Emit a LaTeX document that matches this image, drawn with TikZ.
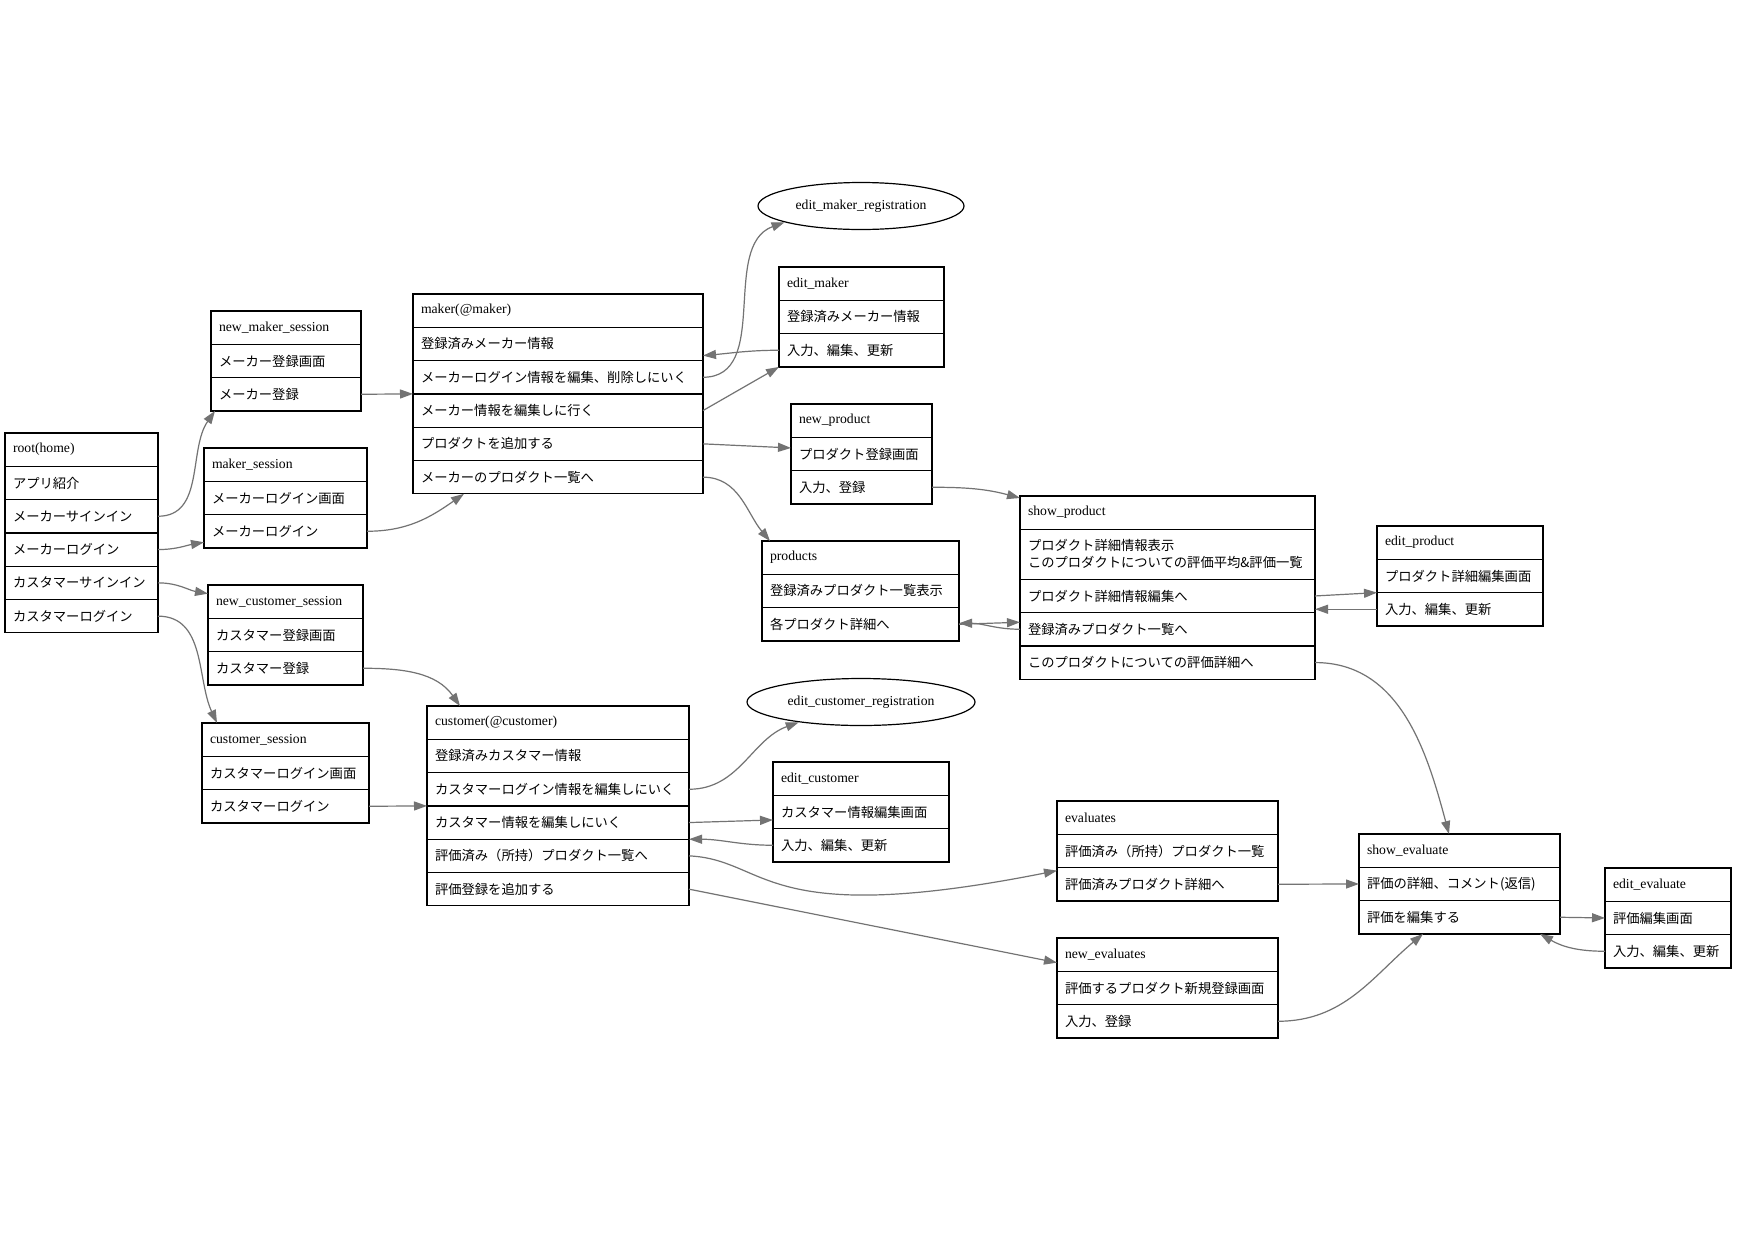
\documentclass[tikz,border=0pt]{standalone}
\usepackage{fontspec}
\setmainfont{Liberation Serif}
\newfontfamily\jpfont{Noto Sans CJK JP}
\usetikzlibrary{shapes,arrows.meta,positioning}

\begin{document}
\begin{tikzpicture}[x=1pt, y=1pt]
    \tikzset{
        head/.style = {rectangle, draw=black, line width=1.2pt, outer sep=0pt, inner xsep=8pt, inner ysep=2pt, minimum height=33.3pt, text width=#1, align=left, font=\fontsize{13.7}{16}\selectfont},
        field/.style = {head=#1, font=\fontsize{13.3}{17}\selectfont\jpfont},
        oval/.style = {ellipse, draw=black, line width=1.2pt, inner sep=0pt, font=\fontsize{13.7}{16}\selectfont},
        line/.style = {draw=black!55, line width=1.2pt, -{Triangle[length=13pt, width=9pt]}}
    }

    \path[fill=white, use as bounding box] (0,0) rectangle (1753,-1240);

    \node[head=137pt, anchor=north west](root) at (5,-433){root(home)};
    \node[field=137pt](root1)[below=0pt of root]{アプリ紹介};
    \node[field=137pt](root2)[below=0pt of root1]{メーカーサインイン};
    \node[field=137pt](root3)[below=0pt of root2]{メーカーログイン};
    \node[field=137pt](root4)[below=0pt of root3]{カスタマーサインイン};
    \node[field=137pt](root5)[below=0pt of root4]{カスタマーログイン};

    \node[head=134pt, anchor=north west](nms) at (211,-311){new\_maker\_session};
    \node[field=134pt](nms1)[below=0pt of nms]{メーカー登録画面};
    \node[field=134pt](nms2)[below=0pt of nms1]{メーカー登録};

    \node[head=147pt, anchor=north west](ms) at (204,-448){maker\_session};
    \node[field=147pt](ms1)[below=0pt of ms]{メーカーログイン画面};
    \node[field=147pt](ms2)[below=0pt of ms1]{メーカーログイン};

    \node[head=139pt, anchor=north west](ncs) at (208,-585){new\_customer\_session};
    \node[field=139pt](ncs1)[below=0pt of ncs]{カスタマー登録画面};
    \node[field=139pt](ncs2)[below=0pt of ncs1]{カスタマー登録};

    \node[head=151pt, anchor=north west](cs) at (202,-723){customer\_session};
    \node[field=151pt](cs1)[below=0pt of cs]{カスタマーログイン画面};
    \node[field=151pt](cs2)[below=0pt of cs1]{カスタマーログイン};

    \node[head=274pt, anchor=north west](maker) at (413,-294){maker(@maker)};
    \node[field=274pt](maker1)[below=0pt of maker]{登録済みメーカー情報};
    \node[field=274pt](maker2)[below=0pt of maker1]{メーカーログイン情報を編集、削除しにいく};
    \node[field=274pt](maker3)[below=0pt of maker2]{メーカー情報を編集しに行く};
    \node[field=274pt](maker4)[below=0pt of maker3]{プロダクトを追加する};
    \node[field=274pt](maker5)[below=0pt of maker4]{メーカーのプロダクト一覧へ};

    \node[head=246pt, anchor=north west](customer) at (427,-706){customer(@customer)};
    \node[field=246pt](customer1)[below=0pt of customer]{登録済みカスタマー情報};
    \node[field=246pt](customer2)[below=0pt of customer1]{カスタマーログイン情報を編集しにいく};
    \node[field=246pt](customer3)[below=0pt of customer2]{カスタマー情報を編集しにいく};
    \node[field=246pt](customer4)[below=0pt of customer3]{評価済み（所持）プロダクト一覧へ};
    \node[field=246pt](customer5)[below=0pt of customer4]{評価登録を追加する};

    \node[oval, minimum width=206pt, minimum height=47pt](emr) at (861,-206){edit\_maker\_registration};
    \node[oval, minimum width=228pt, minimum height=47pt](ecr) at (861,-702){edit\_customer\_registration};

    \node[head=149pt, anchor=north west](em) at (779,-267){edit\_maker};
    \node[field=149pt](em1)[below=0pt of em]{登録済みメーカー情報};
    \node[field=149pt](em2)[below=0pt of em1]{入力、編集、更新};

    \node[head=125pt, anchor=north west](np) at (791,-404){new\_product};
    \node[field=125pt](np1)[below=0pt of np]{プロダクト登録画面};
    \node[field=125pt](np2)[below=0pt of np1]{入力、登録};

    \node[head=181pt, anchor=north west](products) at (762,-541){products};
    \node[field=181pt](products1)[below=0pt of products]{登録済みプロダクト一覧表示};
    \node[field=181pt](products2)[below=0pt of products1]{各プロダクト詳細へ};

    \node[head=279pt, anchor=north west](sp) at (1020,-496){show\_product};
    \node[field=279pt, minimum height=50pt](sp1)[below=0pt of sp]{プロダクト詳細情報表示\\このプロダクトについての評価平均\&評価一覧};
    \node[field=279pt](sp2)[below=0pt of sp1]{プロダクト詳細情報編集へ};
    \node[field=279pt](sp3)[below=0pt of sp2]{登録済みプロダクト一覧へ};
    \node[field=279pt](sp4)[below=0pt of sp3]{このプロダクトについての評価詳細へ};

    \node[head=150pt, anchor=north west](ep) at (1377,-526){edit\_product};
    \node[field=150pt](ep1)[below=0pt of ep]{プロダクト詳細編集画面};
    \node[field=150pt](ep2)[below=0pt of ep1]{入力、編集、更新};

    \node[head=160pt, anchor=north west](ec) at (773,-762){edit\_customer};
    \node[field=160pt](ec1)[below=0pt of ec]{カスタマー情報編集画面};
    \node[field=160pt](ec2)[below=0pt of ec1]{入力、編集、更新};

    \node[head=205pt, anchor=north west](ev) at (1057,-801){evaluates};
    \node[field=205pt](ev1)[below=0pt of ev]{評価済み（所持）プロダクト一覧};
    \node[field=205pt](ev2)[below=0pt of ev1]{評価済みプロダクト詳細へ};

    \node[head=205pt, anchor=north west](nev) at (1057,-938){new\_evaluates};
    \node[field=205pt](nev1)[below=0pt of nev]{評価するプロダクト新規登録画面};
    \node[field=205pt](nev2)[below=0pt of nev1]{入力、登録};

    \node[head=185pt, anchor=north west](se) at (1359,-834){show\_evaluate};
    \node[field=185pt](se1)[below=0pt of se]{評価の詳細、コメント(返信)};
    \node[field=185pt](se2)[below=0pt of se1]{評価を編集する};

    \node[head=110pt, anchor=north west](eev) at (1605,-868){edit\_evaluate};
    \node[field=110pt](eev1)[below=0pt of eev]{評価編集画面};
    \node[field=110pt](eev2)[below=0pt of eev1]{入力、編集、更新};

    \path [line] (root2.east) to[out=0, in=235] ([xshift=4pt]nms2.south west);
    \path [line] (root3.east) to[out=0, in=190] ([yshift=-11pt]ms2.west);
    \path [line] (root4.east) to[out=0, in=170] ([yshift=8pt]ncs.west);
    \path [line] (root5.east) to[out=0, in=115] ([xshift=15pt]cs.north west);

    \path [line] (nms2.east) -- (maker2.south west);
    \path [line] (ms2.east) to[out=0, in=215] ([xshift=51pt]maker5.south west);
    \path [line] (ncs2.east) to[out=0, in=125] ([xshift=33pt]customer.north west);
    \path [line] (cs2.east) -- (customer2.south west);

    \path [line] (maker2.east) to[out=0, in=200] (emr.192);
    \path [line] (em2.west) to[out=180, in=5] ([yshift=5pt]maker2.north east);
    \path [line] (maker3.east) -- (em2.south west);
    \path [line] (maker4.east) -- ([yshift=6pt]np1.west);
    \path [line] (maker5.east) to[out=0, in=130] ([xshift=8pt]products.north west);

    \path [line] (np2.east) to[out=0, in=165] ([yshift=-2pt]sp.north west);
    \path [line] (products2.east) -- ([yshift=7pt]sp3.west);
    \path [line] (sp3.west) to[out=180, in=0] ([yshift=1pt]products2.east);
    \path [line] (sp2.east) -- (ep2.north west);
    \path [line] (ep2.west) -- (ep2.west -| sp.east);
    \path [line] (sp4.east) to[out=0, in=105] ([xshift=90pt]se.north west);

    \path [line] (customer2.east) to[out=0, in=200] (ecr.198);
    \path [line] (customer3.east) -- ([yshift=-8pt]ec1.west);
    \path [line] (ec2.west) to[out=180, in=0] (customer3.south east);
    \path [line] (customer4.east) .. controls +(80,-4) and +(-297,-59) .. ([yshift=-3pt]ev2.north west);
    \path [line] (customer5.east) -- ([yshift=-8pt]nev.west);

    \path [line] (ev2.east) -- (se1.west);
    \path [line] (nev2.east) to[out=0, in=220] ([xshift=64pt]se2.south west);
    \path [line] (se2.east) -- (eev1.west);
    \path [line] (eev2.west) to[out=180, in=-30] ([xshift=-20pt]se2.south east);

\end{tikzpicture}
\end{document}
